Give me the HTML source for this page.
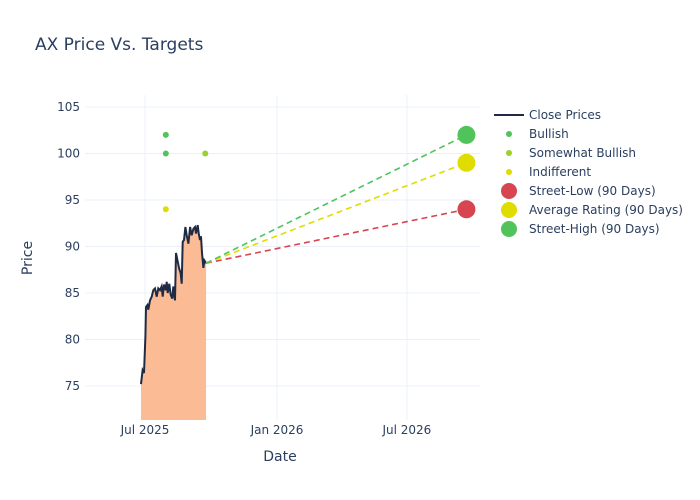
<!DOCTYPE html>
<html><head><meta charset="utf-8"><style>
body{margin:0;background:#fff;}
svg{display:block;font-family:"DejaVu Sans","Liberation Sans",sans-serif;}
</style></head><body>
<svg id="chart" width="700" height="500" xmlns="http://www.w3.org/2000/svg">
<rect width="700" height="500" fill="#fff"/>
<text x="35" y="50" font-size="17" fill="#2a3f5f">AX Price Vs. Targets</text>
<g id="grid"></g><g id="marks"></g><g id="axes"></g>
<text x="280" y="461" font-size="14" fill="#2a3f5f" text-anchor="middle">Date</text>
<text x="32" y="258" font-size="14" fill="#2a3f5f" text-anchor="middle" transform="rotate(-90 32 258)">Price</text>
<g id="legend"></g>
</svg>
<script>
// data
const priceDays=[-5.6,-3.3,-1.4,0.5,1.4,3.3,4.6,7,9.3,11.6,14,16.3,18.6,20.9,23.2,24.6,26.5,28.8,30.2,31.6,33.9,35.8,38.1,39.5,41.8,43.2,45.6,47.4,49.8,51.2,52.6,54.4,56.3,58.1,60.5,62.8,65.1,67.4,69.7,71.1,73.5,74.9,76.7,78.1,79.5,81.4,82.8,85.1];
const priceValues=[75.2,76.7,76.4,80.3,83.5,83.7,83.2,84.2,84.6,85.3,85.5,84.6,85.5,85.3,85.7,84.6,85.9,85.3,86.2,85.0,86.0,84.8,84.4,85.7,84.2,89.3,88.4,87.7,87.1,86.0,90.5,90.7,92.1,91.2,90.3,92.1,91.2,91.9,92.1,91.4,92.3,91.4,90.7,91.1,89.3,87.7,88.5,88.2];
const bullishDays=[29,29], bullishValues=[102,100];
const somewhatDays=[84], somewhatValues=[100];
const indifferentDays=[29], indifferentValues=[94];
const targetDay=448;
const targetNames=["Street-Low (90 Days)","Average Rating (90 Days)","Street-High (90 Days)"];
const targetValues=[94,99,102];
const targetColors=["#d64550","#e0dc00","#50c45a"];
const yTicks=[75,80,85,90,95,100,105];
const xTickDays=[0,184,365];
const xTickLabels=["Jul 2025","Jan 2026","Jul 2026"];

const X0=85,X1=480,Y0=95,Y1=420;
const xs=d=>145+d*0.7175;
const ys=v=>107+(105-v)*9.3;
const NS="http://www.w3.org/2000/svg";
function mk(parent,tag,attrs){const e=document.createElementNS(NS,tag);for(const k in attrs)e.setAttribute(k,attrs[k]);document.getElementById(parent).appendChild(e);return e;}

yTicks.forEach(v=>{
 const l=mk('grid','line',{x1:X0,x2:X1,y1:ys(v),y2:ys(v),stroke:'#ebf0f8','stroke-width':1});
 
 
 const t=mk('axes','text',{x:X0-5,y:ys(v)+4,'font-size':12,fill:'#2a3f5f','text-anchor':'end'});
 t.textContent=v;
 
 
});
xTickDays.forEach((d,i)=>{
 const l=mk('grid','line',{x1:xs(d),x2:xs(d),y1:Y0,y2:Y1,stroke:'#ebf0f8','stroke-width':1});
 
 
 const t=mk('axes','text',{x:xs(d),y:Y1+14,'font-size':12,fill:'#2a3f5f','text-anchor':'middle'});
 t.textContent=xTickLabels[i];
 
 
});

// area + line
let pts=priceDays.map((d,i)=>xs(d).toFixed(1)+','+ys(priceValues[i]).toFixed(1));
const area=mk('marks','polygon',{points:xs(priceDays[0])+','+Y1+' '+pts.join(' ')+' '+xs(priceDays[priceDays.length-1])+','+Y1,fill:'#fbbb95'});


const line=mk('marks','polyline',{points:pts.join(' '),fill:'none',stroke:'#1f2a44','stroke-width':2});



// dashed target lines
const lastD=priceDays[priceDays.length-1],lastV=priceValues[priceValues.length-1];
targetValues.forEach((v,i)=>{
 const l=mk('marks','line',{x1:xs(lastD),y1:ys(lastV),x2:xs(targetDay),y2:ys(v),stroke:targetColors[i],'stroke-width':1.6,'stroke-dasharray':'6,4'});
 
 
});
function dots(days,vals,color,r,name){
 days.forEach((d,i)=>{
  const c=mk('marks','circle',{cx:xs(d),cy:ys(vals[i]),r:r,fill:color});
  
  
 });
}
dots(bullishDays,bullishValues,'#50c45a',3,'bullish-point');
dots(somewhatDays,somewhatValues,'#9ad12a',3,'somewhat-bullish-point');
dots(indifferentDays,indifferentValues,'#e0dc00',3,'indifferent-point');
targetValues.forEach((v,i)=>{
 const c=mk('marks','circle',{cx:xs(targetDay),cy:ys(v),r:9,fill:targetColors[i]});
 
 
});

// legend
const legItems=[["Close Prices","line","#1f2a44"],["Bullish",3,"#50c45a"],["Somewhat Bullish",3,"#9ad12a"],["Indifferent",3,"#e0dc00"],[targetNames[0],8,targetColors[0]],[targetNames[1],8,targetColors[1]],[targetNames[2],8,targetColors[2]]];
legItems.forEach((it,i)=>{
 const y=115+i*19;
 if(it[1]==='line'){
  const l=mk('legend','line',{x1:494,x2:524,y1:y,y2:y,stroke:it[2],'stroke-width':2});
  
  
 } else {
  const c=mk('legend','circle',{cx:509,cy:y,r:it[1],fill:it[2]});
  
  
 }
 const t=mk('legend','text',{x:529,y:y+4,'font-size':12,fill:'#2a3f5f'});
 t.textContent=it[0];
 
 
});
</script>
</body></html>
